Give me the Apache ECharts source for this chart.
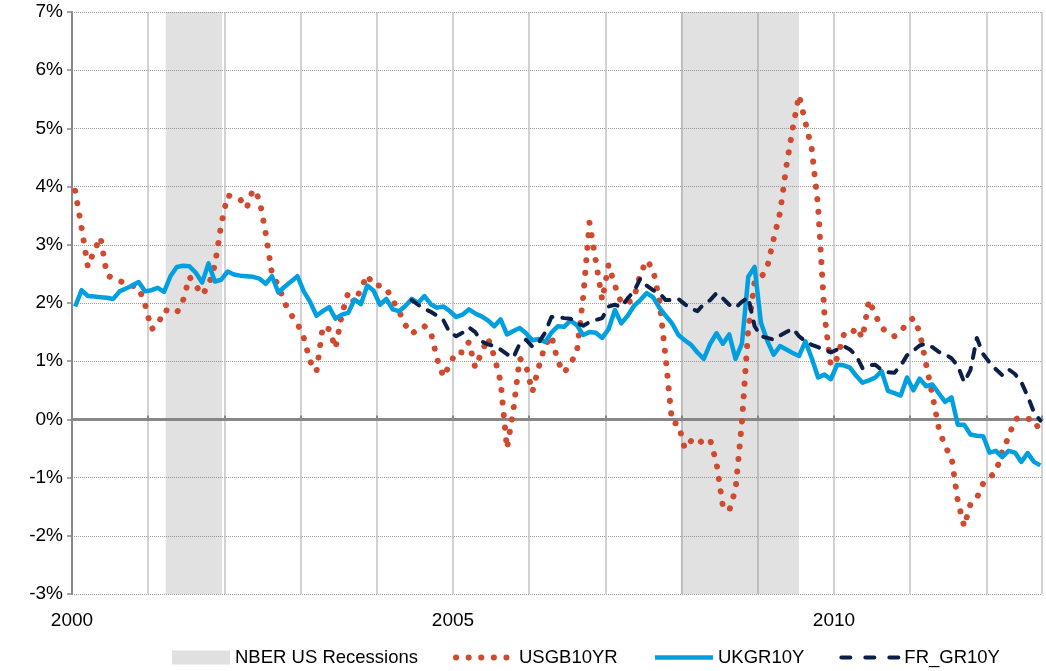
<!DOCTYPE html>
<html>
<head>
<meta charset="utf-8">
<style>
  html, body { margin: 0; padding: 0; background: #fff; }
  #chart { width: 1046px; height: 671px; }
</style>
<script src="https://cdn.jsdelivr.net/npm/echarts@6/dist/echarts.min.js"></script>
</head>
<body>
<div id="chart"></div>
<script>
// monthly data, first value = Jan 2000
const startYear = 2000;
const yearLabels = [2000, 2005, 2010];
const recessions = [[2001.23, 2001.97], [2007.99, 2009.54]];

const usgb10yr = [
  3.93, 3.30, 2.62, 2.90, 3.13, 2.48, 2.42, 2.38, 2.33, 2.30, 2.26, 1.98,
  1.55, 1.62, 1.88, 1.86, 1.83, 2.05, 2.45, 2.30, 2.14, 2.30, 2.65, 3.35,
  3.85, 3.82, 3.78, 3.63, 3.95, 3.79, 3.20, 2.50, 2.30, 2.00, 1.80, 1.65,
  1.40, 1.00, 0.82, 1.60, 1.55, 1.22, 1.80, 2.18, 2.00, 2.25, 2.48, 2.30,
  2.30, 2.25, 2.05, 1.86, 1.62, 1.47, 1.55, 1.60, 1.50, 1.04, 0.73, 0.95,
  1.16, 1.15, 1.33, 0.89, 1.15, 1.40, 1.08, 0.65, -0.50, 0.15, 1.05, 0.93,
  0.47, 0.90, 1.27, 1.44, 1.00, 0.80, 0.96, 1.15, 2.10, 3.38, 2.72, 2.05,
  2.66, 2.30, 2.00, 2.00, 2.08, 2.50, 2.73, 2.58, 2.05, 1.05, -0.05, -0.08,
  -0.50, -0.37, -0.44, -0.34, -0.35, -0.75, -1.49, -1.57, -1.20, -0.05, 1.55, 2.37,
  2.43, 2.62, 3.10, 3.55, 4.35, 5.00, 5.57, 5.10, 4.65, 3.66, 1.80, 0.92,
  1.05, 1.45, 1.43, 1.58, 1.40, 2.05, 1.80, 1.57, 1.50, 1.43, 1.50, 1.66,
  1.74, 1.50, 0.95, 0.42, -0.15, -0.47, -0.64, -1.40, -1.84, -1.45, -1.35, -1.10,
  -1.00, -0.90, -0.55, -0.30, 0.00, 0.04, 0.01, 0.00, -0.22
];

const ukgr10y = [
  1.94, 2.22, 2.12, 2.11, 2.10, 2.09, 2.07, 2.20, 2.25, 2.30, 2.36, 2.20,
  2.22, 2.26, 2.19, 2.46, 2.62, 2.64, 2.63, 2.52, 2.35, 2.68, 2.37, 2.40,
  2.54, 2.49, 2.47, 2.46, 2.45, 2.42, 2.33, 2.46, 2.18, 2.28, 2.37, 2.46,
  2.20, 2.02, 1.78, 1.86, 1.93, 1.73, 1.80, 1.83, 2.06, 1.98, 2.30, 2.21,
  1.97, 2.07, 1.89, 1.86, 1.95, 2.07, 2.00, 2.12, 1.98, 1.92, 1.94, 1.86,
  1.76, 1.80, 1.89, 1.82, 1.77, 1.70, 1.60, 1.72, 1.46, 1.52, 1.57, 1.48,
  1.36, 1.38, 1.33, 1.49, 1.60, 1.59, 1.70, 1.62, 1.45, 1.50, 1.49, 1.40,
  1.55, 1.88, 1.65, 1.78, 1.95, 2.05, 2.17, 2.10, 1.92, 1.78, 1.65, 1.45,
  1.36, 1.28, 1.15, 1.04, 1.30, 1.48, 1.30, 1.46, 1.04, 1.30, 2.45, 2.62,
  1.66, 1.35, 1.11, 1.26, 1.20, 1.14, 1.09, 1.34, 1.05, 0.72, 0.77, 0.69,
  0.94, 0.93, 0.89, 0.75, 0.63, 0.67, 0.72, 0.83, 0.49, 0.45, 0.41, 0.72,
  0.50, 0.70, 0.57, 0.60, 0.45, 0.30, 0.38, -0.09, -0.09, -0.26, -0.28, -0.29,
  -0.57, -0.54, -0.65, -0.54, -0.57, -0.73, -0.58, -0.73, -0.79
];

// FR series starts in month 53 (Jun 2004)
const frStart = 53;
const frgr10y = [
  2.05, 1.97, 1.90, 1.85, 1.78, 1.70, 1.49, 1.43, 1.49, 1.58, 1.50,
  1.34, 1.29, 1.26, 1.20, 1.12, 1.06, 1.30, 1.37, 1.25, 1.32, 1.49, 1.76,
  1.76, 1.74, 1.73, 1.65, 1.61, 1.67, 1.71, 1.74, 1.94, 1.97, 1.93, 2.08,
  2.20, 2.42, 2.30, 2.22, 2.17, 2.05, 2.05, 2.07, 1.98, 1.90, 1.86, 1.98,
  2.05, 2.17, 2.08, 1.97, 1.92, 2.02, 2.10, 1.60, 1.43, 1.40, 1.37, 1.44,
  1.50, 1.56, 1.43, 1.34, 1.28, 1.24, 1.20, 1.15, 1.20, 1.26, 1.20, 1.10,
  0.88, 0.93, 0.94, 0.85, 0.81, 0.80, 0.92, 1.10, 1.18, 1.27, 1.30, 1.24,
  1.16, 1.12, 1.05, 0.92, 0.64, 0.85, 1.40, 1.12, 0.98, 0.86, 0.76, 0.86,
  0.78, 0.64, 0.40, 0.12, -0.02
];

const font = '"Liberation Sans", Arial, sans-serif';
const toPoints = (arr, offset) => arr.map((v, i) => [startYear + (offset + i + 0.5) / 12, v]);
// hide the circle echarts puts in the middle of line legend icons
const noSymbol = { color: 'rgba(0,0,0,0)', borderWidth: 0 };

const usLine = { color: '#d04a30', width: 6, type: [0.1, 12.5], cap: 'round', join: 'round' };
const ukLine = { color: '#00a0e0', width: 4.5, join: 'round' };
const frLine = { color: '#0b1f48', width: 4, type: [9, 10], cap: 'round', join: 'round' };

const chart = echarts.init(document.getElementById('chart'), null, { renderer: 'canvas' });

chart.setOption({
  animation: false,
  backgroundColor: '#fff',
  grid: { left: 72, right: 4, top: 12, bottom: 77 },
  legend: {
    left: 167,
    top: 643,
    itemWidth: 58,
    itemHeight: 14,
    itemGap: 35,
    textStyle: { fontFamily: font, fontSize: 18.5, color: '#000' },
    data: [
      { name: 'NBER US Recessions', icon: 'rect', itemStyle: { color: '#e0e0e0' } },
      { name: 'USGB10YR', itemStyle: noSymbol, lineStyle: usLine },
      { name: 'UKGR10Y', itemStyle: noSymbol, lineStyle: ukLine },
      { name: 'FR_GR10Y', itemStyle: noSymbol, lineStyle: Object.assign({}, frLine, { type: [9, 15] }) }
    ]
  },
  xAxis: [
    {
      type: 'value',
      min: 2000,
      max: 2012.73,
      interval: 1,
      position: 'bottom',
      axisLine: { show: false, onZero: false },
      axisTick: { show: false },
      axisLabel: {
        margin: 17,
        fontFamily: font,
        fontSize: 19,
        color: '#000',
        formatter: v => yearLabels.includes(v) ? String(v) : ''
      },
      splitLine: { show: true, lineStyle: { color: '#c3c3c3', width: 1.5 } }
    },
    {
      type: 'value',
      min: 2000,
      max: 2012.73,
      interval: 1,
      position: 'top',
      axisLine: { show: true, onZero: true, lineStyle: { color: '#888', width: 3 } },
      axisTick: { show: true, length: 4, lineStyle: { color: '#888', width: 2 } },
      axisLabel: { show: false },
      splitLine: { show: false }
    }
  ],
  yAxis: {
    type: 'value',
    min: -3,
    max: 7,
    interval: 1,
    axisLine: { show: true, onZero: false, lineStyle: { color: '#888', width: 2 } },
    axisTick: { show: true, length: 5, lineStyle: { color: '#888', width: 1.5 } },
    axisLabel: {
      margin: 9,
      fontFamily: font,
      fontSize: 19,
      color: '#000',
      formatter: '{value}%'
    },
    splitLine: { show: true, lineStyle: { color: '#9a9a9a', type: 'dotted', width: 1 } }
  },
  series: [
    {
      name: 'NBER US Recessions',
      type: 'line',
      data: [],
      itemStyle: { color: '#e0e0e0' },
      markArea: {
        silent: true,
        itemStyle: { color: 'rgba(128,128,128,0.24)' },
        data: recessions.map(r => [{ xAxis: r[0] }, { xAxis: r[1] }])
      }
    },
    {
      name: 'USGB10YR',
      type: 'line',
      showSymbol: false,
      symbol: 'none',
      data: toPoints(usgb10yr, 0),
      itemStyle: { color: '#d04a30' },
      lineStyle: usLine
    },
    {
      name: 'UKGR10Y',
      type: 'line',
      showSymbol: false,
      symbol: 'none',
      data: toPoints(ukgr10y, 0),
      itemStyle: { color: '#00a0e0' },
      lineStyle: ukLine
    },
    {
      name: 'FR_GR10Y',
      type: 'line',
      showSymbol: false,
      symbol: 'none',
      data: toPoints(frgr10y, frStart),
      itemStyle: { color: '#0b1f48' },
      lineStyle: frLine
    }
  ]
});

window.addEventListener('resize', () => chart.resize());
</script>
</body>
</html>
